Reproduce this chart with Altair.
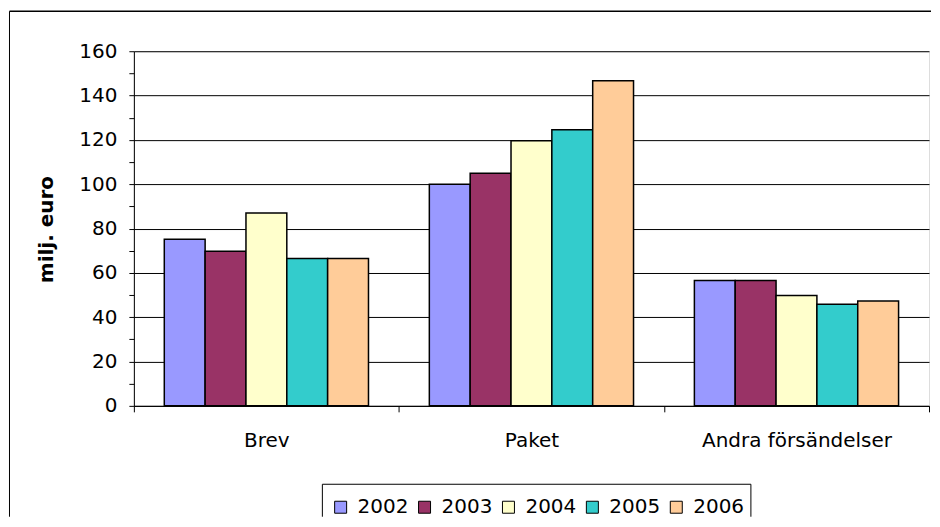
import altair as alt
import pandas as pd

categories = ["Brev", "Paket", "Andra försändelser"]
years = ["2002", "2003", "2004", "2005", "2006"]
colors = ["#9999FF", "#993366", "#FFFFCC", "#33CCCC", "#FFCC99"]
val_2002 = [75.2, 100.0, 56.6]
val_2003 = [69.8, 105.0, 56.6]
val_2004 = [87.0, 119.6, 49.8]
val_2005 = [66.5, 124.6, 45.8]
val_2006 = [66.5, 146.7, 47.3]
y_ticks = list(range(0, 161, 10))
y_title = "milj. euro"

rows = []
for yr, vals in zip(years, [val_2002, val_2003, val_2004, val_2005, val_2006]):
    for c, v in zip(categories, vals):
        rows.append({"category": c, "year": yr, "value": v})
df = pd.DataFrame(rows)

FONT = "DejaVu Sans"
W, H = 796, 355

bars = alt.Chart(df).mark_bar(stroke="black", strokeWidth=1.5).encode(
    x=alt.X(
        "category:N", sort=categories,
        scale=alt.Scale(paddingInner=0, paddingOuter=0),
        axis=alt.Axis(title=None, labelAngle=0, tickBand="extent", tickSize=6,
                      labelPadding=19, labelFontSize=20, labelFont=FONT, labelLimit=0,
                      domainColor="black", tickColor="black", labelColor="black"),
    ),
    xOffset=alt.XOffset("year:N", sort=years,
                        scale=alt.Scale(paddingInner=0, paddingOuter=0.745)),
    y=alt.Y(
        "value:Q", scale=alt.Scale(domain=[0, 160], nice=False),
        axis=alt.Axis(
            title=y_title, values=y_ticks,
            labelExpr="datum.value % 20 === 0 ? datum.label : ''",
            gridOpacity={"condition": {"test": "datum.value % 20 === 0", "value": 1}, "value": 0},
            gridColor="black", gridWidth=1,
            tickSize=5, tickColor="black", domainColor="black",
            labelPadding=12, labelFontSize=20, labelFont=FONT, labelColor="black",
            titleFont=FONT, titleFontSize=20, titleFontWeight="bold", titleColor="black",
            titleAngle=270, titleX=-87, titleY=178, titleAlign="center", titleBaseline="middle",
        ),
    ),
    color=alt.Color(
        "year:N",
        scale=alt.Scale(domain=years, range=colors),
        legend=alt.Legend(
            title=None, orient="none", direction="horizontal",
            legendX=197, legendY=446.5,
            symbolType="square", symbolSize=144,
            symbolStrokeColor="black", symbolStrokeWidth=1,
            labelFont=FONT, labelFontSize=20, labelColor="black",
            labelOffset=7, columnPadding=6, padding=0,
        ),
    ),
)

one = pd.DataFrame({"k": [0]})
frame_top = alt.Chart(one).mark_rule(color="black", strokeWidth=1.5).encode(
    x=alt.value(-124.5), x2=alt.value(798), y=alt.value(-40))
frame_left = alt.Chart(one).mark_rule(color="black", strokeWidth=1).encode(
    x=alt.value(-124.5), y=alt.value(-40), y2=alt.value(466))
leg_top = alt.Chart(one).mark_rule(color="black", strokeWidth=1).encode(
    x=alt.value(188.7), x2=alt.value(617.7), y=alt.value(433.5))
leg_left = alt.Chart(one).mark_rule(color="black", strokeWidth=1).encode(
    x=alt.value(188.7), y=alt.value(433.5), y2=alt.value(466))
leg_right = alt.Chart(one).mark_rule(color="black", strokeWidth=1).encode(
    x=alt.value(617.7), y=alt.value(433.5), y2=alt.value(466))

chart = alt.layer(bars, frame_top, frame_left, leg_top, leg_left, leg_right).properties(
    width=W, height=H,
    padding={"left": 0, "top": 2, "right": 0, "bottom": 0},
).configure_view(stroke="#808080", strokeWidth=1).configure(background="white")

chart.save("out.html", embed_options={"renderer": "svg", "actions": False})
